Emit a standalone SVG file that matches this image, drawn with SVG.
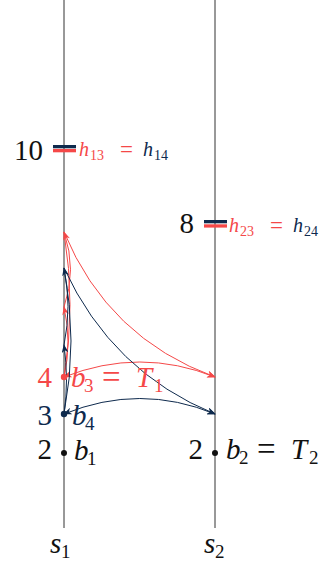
<svg xmlns="http://www.w3.org/2000/svg" width="327" height="565" viewBox="0 0 327 565">
<style>
text{font-family:'Liberation Serif','DejaVu Serif',serif;font-size:29px}
.ax{stroke:#333;stroke-width:1;fill:none}
.r{stroke:#f54848;stroke-width:1;fill:none}
.b{stroke:#0e2a4d;stroke-width:1;fill:none}
.red{fill:#f54848}
.blu{fill:#0e2a4d}
.blk{fill:#111}
.it{font-style:italic}
.sub{font-size:19px;font-style:normal}
.eq{font-size:33px;font-style:normal}
.sh{font-size:20px}
.ss{font-size:14px;font-style:normal}
</style>
<defs>
<marker id="ar" viewBox="0 0 10 8" refX="9" refY="4" markerWidth="9" markerHeight="7" markerUnits="userSpaceOnUse" orient="auto-start-reverse"><path d="M0,0 L10,4 L0,8 L3,4 z" fill="#f54848"/></marker>
<marker id="ab" viewBox="0 0 10 8" refX="9" refY="4" markerWidth="9" markerHeight="7" markerUnits="userSpaceOnUse" orient="auto-start-reverse"><path d="M0,0 L10,4 L0,8 L3,4 z" fill="#0e2a4d"/></marker>
</defs>
<g id="axes">
<line class="ax" x1="64" y1="0" x2="64" y2="528"/>
<line class="ax" x1="215" y1="0" x2="215" y2="528"/>
<text class="blk it" x="50" y="553">s<tspan class="sub" x="61" y="558">1</tspan></text>
<text class="blk it" x="204" y="553">s<tspan class="sub" x="215" y="558">2</tspan></text>
</g>
<g id="tick10">
<rect x="53" y="145" width="23" height="3.3" fill="#0e2a4d"/>
<rect x="53" y="149" width="23" height="3.3" fill="#f54848"/>
<text class="blk" x="43" y="160" text-anchor="end">10</text>
<text class="sh it"><tspan class="red" x="79" y="156">h</tspan><tspan class="red ss" x="90" y="160">13</tspan><tspan class="red" font-style="normal" font-size="23" x="120" y="157">=</tspan><tspan class="blu" x="143" y="156">h</tspan><tspan class="blu ss" x="154" y="160">14</tspan></text>
</g>
<g id="tick8">
<rect x="204" y="220" width="23" height="3.3" fill="#0e2a4d"/>
<rect x="204" y="224.3" width="23" height="3.3" fill="#f54848"/>
<text class="blk" x="194" y="233" text-anchor="end">8</text>
<text class="sh it"><tspan class="red" x="229" y="232">h</tspan><tspan class="red ss" x="240" y="236">23</tspan><tspan class="red" font-style="normal" font-size="23" x="270" y="233">=</tspan><tspan class="blu" x="293" y="232">h</tspan><tspan class="blu ss" x="304" y="236">24</tspan></text>
</g>
<g id="connectors">
<path class="r" d="M64,377 Q72,342 64,307" marker-end="url(#ar)"/>
<path class="r" d="M64,307 Q77,270 64,232" marker-end="url(#ar)"/>
<path class="r" d="M64,232 Q76,305 64,377"/>
<path class="r" d="M64,232 Q108,338 215,377" marker-end="url(#ar)"/>
<path class="r" d="M64,377 Q140,347 215,377" marker-start="url(#ar)" marker-end="url(#ar)"/>
<path class="b" d="M64,414 Q69,380 64,345" marker-end="url(#ab)"/>
<path class="b" d="M64,345 Q72,306 64,268" marker-end="url(#ab)"/>
<path class="b" d="M64,268 Q78,341 64,414"/>
<path class="b" d="M64,268 Q112,372 215,414" marker-end="url(#ab)"/>
<path class="b" d="M64,414 Q140,383 215,414" marker-start="url(#ab)" marker-end="url(#ab)"/>
</g>
<g id="n4">
<circle cx="64" cy="377" r="3.2" fill="#f54848"/>
<text class="red" x="52" y="387" text-anchor="end">4</text>
<text class="red it"><tspan x="71" y="387">b</tspan><tspan class="sub" x="84" y="392">3</tspan><tspan class="eq" x="102" y="388">=</tspan><tspan x="136" y="387">T</tspan><tspan class="sub" x="154" y="392">1</tspan></text>
</g>
<g id="n3">
<circle cx="64" cy="414" r="3.2" fill="#0e2a4d"/>
<text class="blu" x="52" y="425" text-anchor="end">3</text>
<text class="blu it"><tspan x="72" y="425">b</tspan><tspan class="sub" x="85" y="430">4</tspan></text>
</g>
<g id="n2l">
<circle cx="64" cy="453" r="3" fill="#111"/>
<text class="blk" x="52" y="459" text-anchor="end">2</text>
<text class="blk it"><tspan x="74" y="460">b</tspan><tspan class="sub" x="87" y="465">1</tspan></text>
</g>
<g id="n2r">
<circle cx="215" cy="453" r="3" fill="#111"/>
<text class="blk" x="203" y="459" text-anchor="end">2</text>
<text class="blk it"><tspan x="226" y="459">b</tspan><tspan class="sub" x="239" y="464">2</tspan><tspan class="eq" x="257" y="460">=</tspan><tspan x="291" y="459">T</tspan><tspan class="sub" x="309" y="464">2</tspan></text>
</g>
</svg>
